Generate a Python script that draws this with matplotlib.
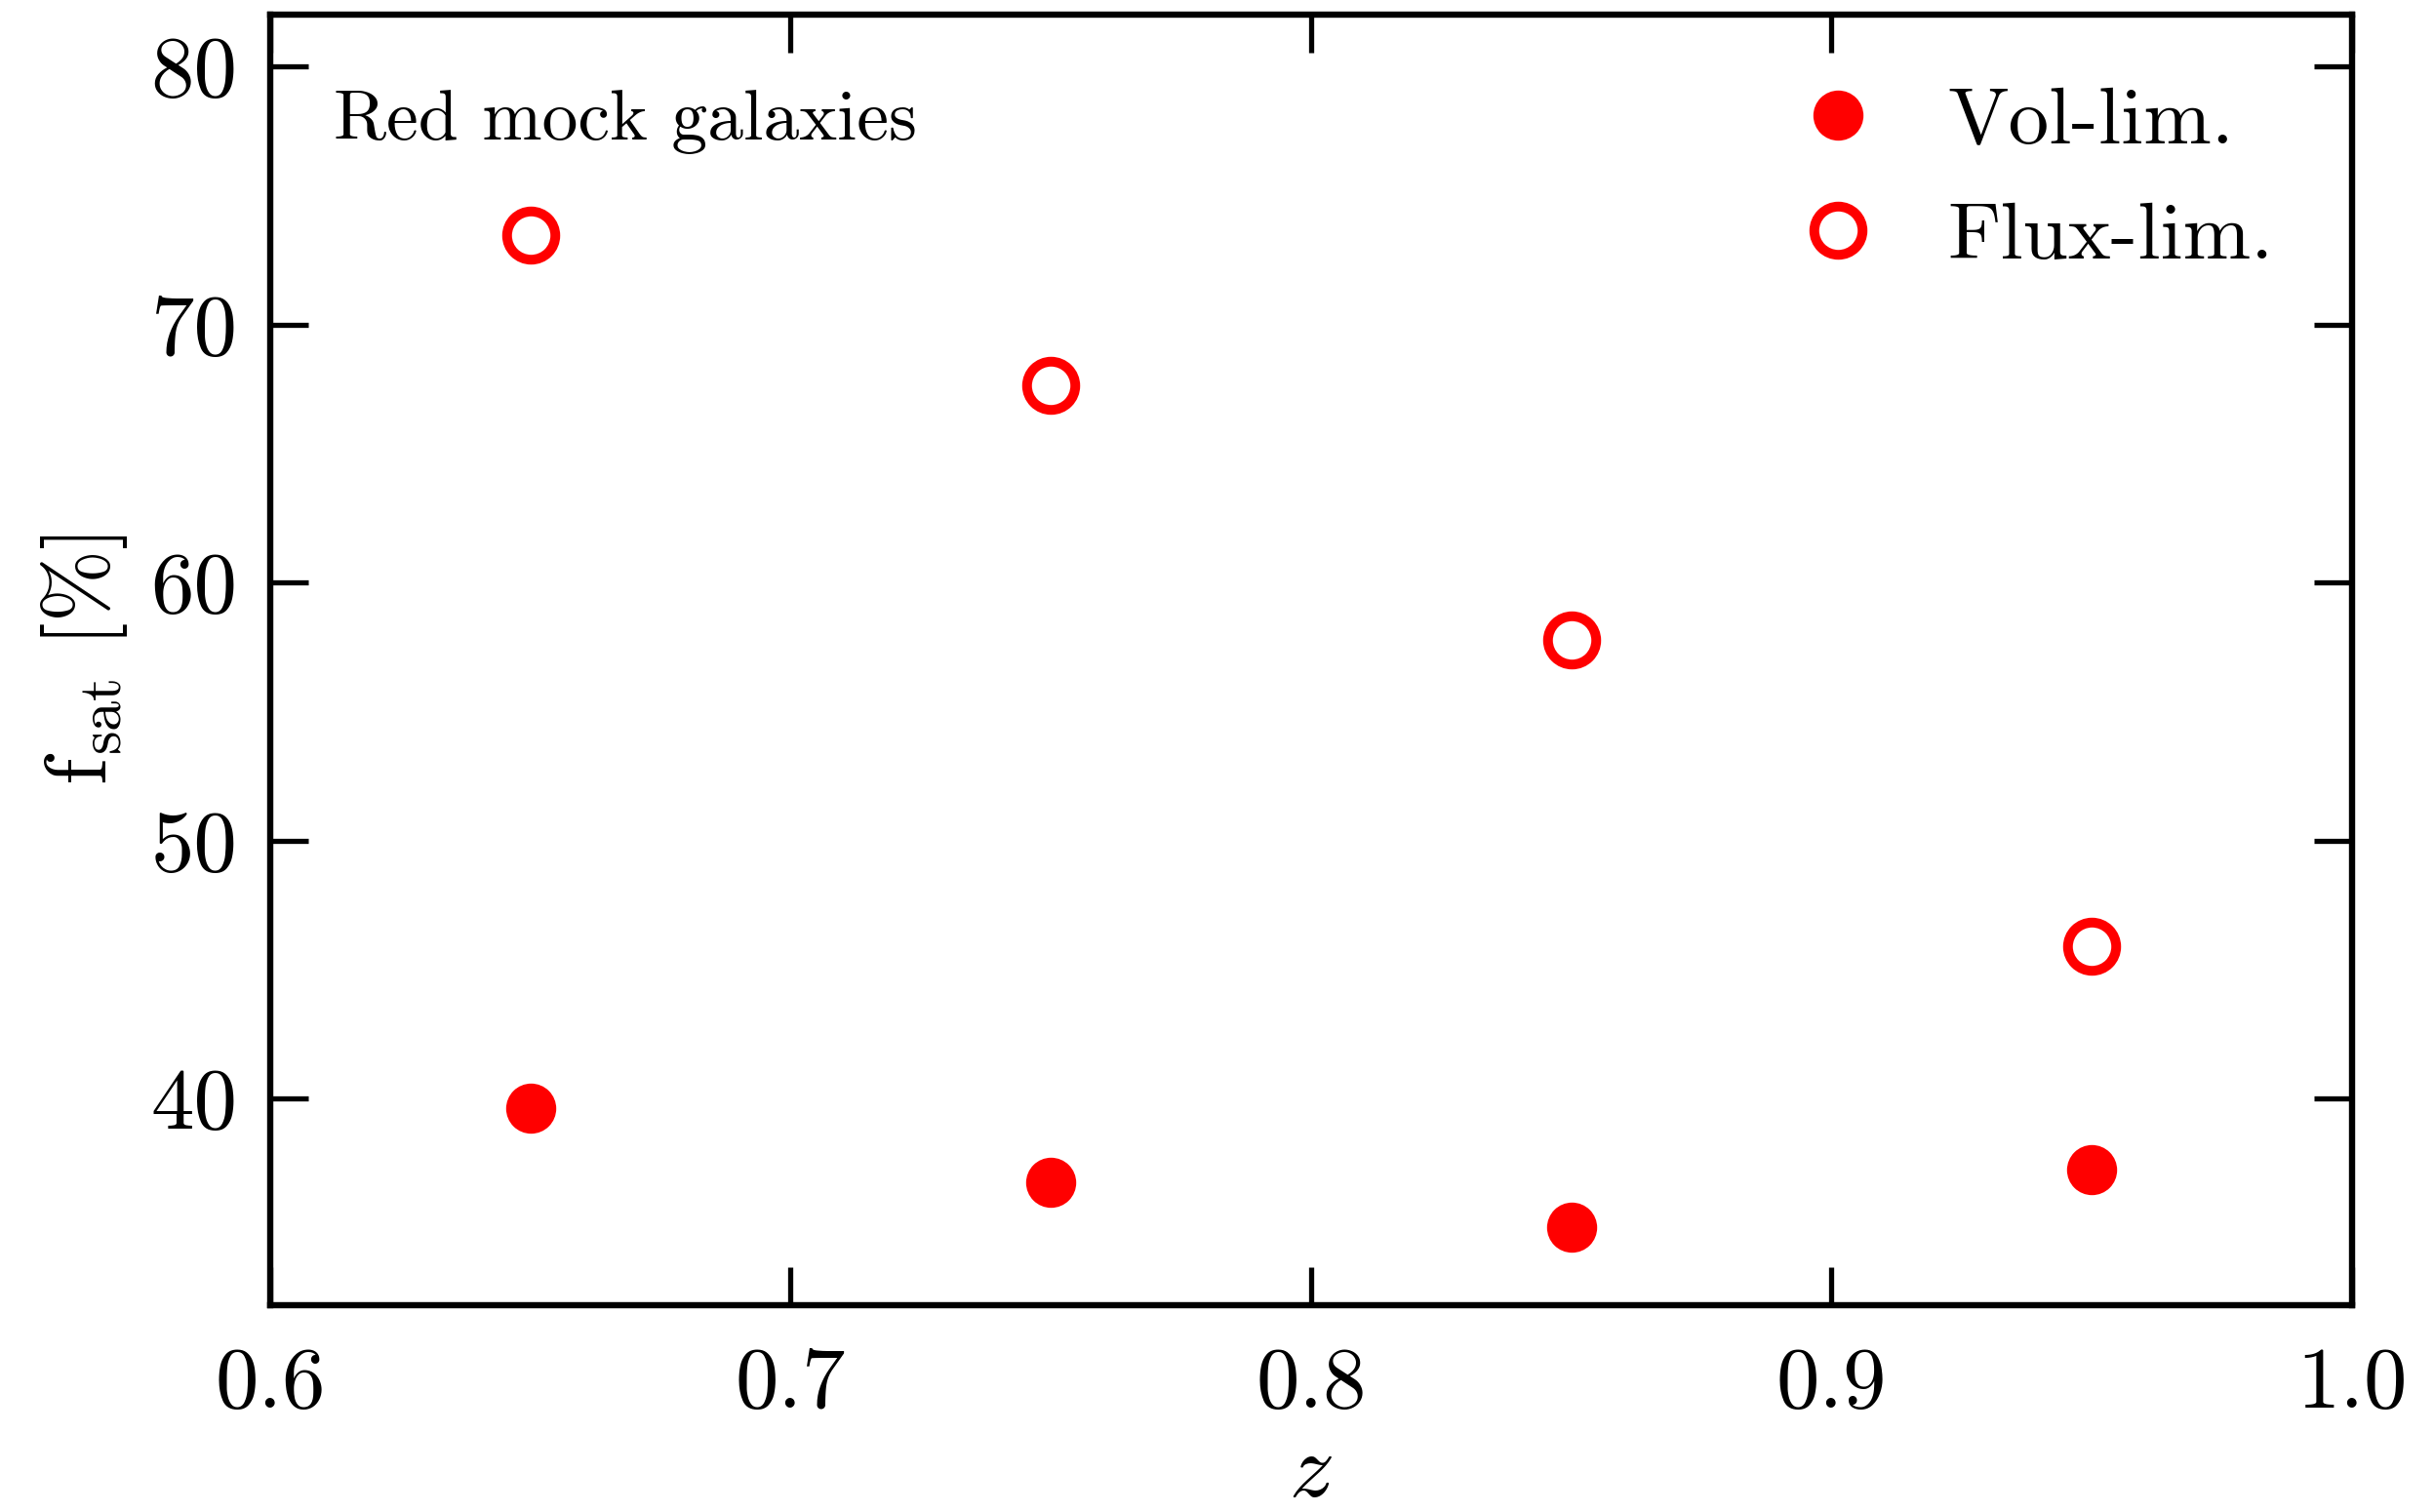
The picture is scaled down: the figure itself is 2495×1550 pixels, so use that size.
import numpy as np
import matplotlib
matplotlib.use('Agg')
import matplotlib.pyplot as plt

plt.rcParams['font.family'] = 'cmr10'
plt.rcParams['mathtext.fontset'] = 'cm'
plt.rcParams['axes.unicode_minus'] = False
plt.rcParams['axes.formatter.use_mathtext'] = True

z = [0.65, 0.75, 0.85, 0.95]
fsat_vol = [39.65, 36.77, 35.03, 37.25]
fsat_flux = [73.46, 67.63, 57.79, 45.9]

xticks = [0.6, 0.7, 0.8, 0.9, 1.0]
yticks = [40, 50, 60, 70, 80]

fig = plt.figure(figsize=(24.95, 15.5), dpi=100)
ax = fig.add_axes([0.111, 0.1368, 0.8553, 0.8535])

ax.plot(z, fsat_vol, 'o', color='red', ms=37, mew=0, label='Vol-lim.')
ax.plot(z, fsat_flux, 'o', color='red', mfc='none', ms=35.6, mew=7.2,
        label='Flux-lim.')

ax.set_xlim(0.6, 1.0)
ax.set_ylim(32, 82)
ax.set_xticks(xticks)
ax.set_yticks(yticks)
ax.set_xticklabels(['%.1f' % t for t in xticks])
ax.set_yticklabels(['%d' % t for t in yticks])

for s in ax.spines.values():
    s.set_linewidth(4.6)
ax.tick_params(which='both', direction='in', top=True, right=True,
               length=28.4, width=3.8, labelsize=64)
ax.tick_params(axis='x', pad=31)
ax.tick_params(axis='y', pad=24)

ax.set_xlabel(r'$z$', fontsize=66, labelpad=7)
ax.set_ylabel(r'$\mathrm{f_{sat}}\ [\%]$', fontsize=64, labelpad=16)

ax.text(0.0305, 0.9033, 'Red mock galaxies', transform=ax.transAxes,
        fontsize=53, va='baseline', ha='left')

ax.legend(loc='upper left', bbox_to_anchor=(0.7334, 0.944), frameon=False,
          fontsize=60, numpoints=1, handlelength=1.0, handletextpad=0.85,
          borderpad=0, borderaxespad=0, labelspacing=0.52)

fig.savefig('out.png', dpi=100)
